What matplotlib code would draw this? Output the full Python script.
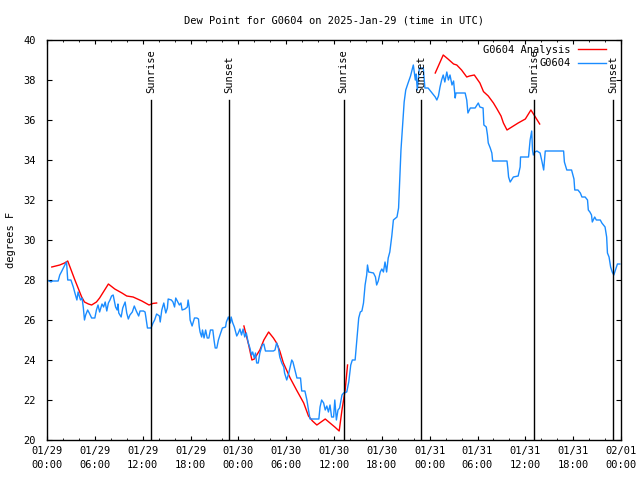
import matplotlib
matplotlib.use('Agg')
import matplotlib.pyplot as plt
import matplotlib.dates as mdates
import numpy as np
import pandas as pd

# 観測値 (時間は 2025-01-29 00:00 UTC からの経過時間)
obs_hours = [0, 0.5, 0.7, 1.4, 1.6, 1.8, 2.05, 2.3, 2.45, 2.6, 3.0, 3.3, 3.5, 3.75, 3.9, 4.2, 4.4, 4.56, 4.7, 4.85,
             5.1, 5.3, 5.6, 6.0, 6.2, 6.4, 6.6, 6.9, 7.1, 7.3, 7.5, 7.7, 7.9, 8.1, 8.3, 8.6, 8.8, 8.9, 9.0, 9.3,
             9.5, 9.8, 10.0, 10.2, 10.4, 10.7, 10.95, 11.2, 11.5, 11.67, 12.1, 12.3, 12.4, 12.6, 13.05, 13.3, 13.5, 13.75, 14.1, 14.2,
             14.4, 14.65, 14.9, 15.1, 15.2, 15.6, 15.8, 16.0, 16.15, 16.4, 16.6, 16.8, 16.95, 17.3, 17.6, 17.7, 17.85, 17.95, 18.2, 18.5,
             18.8, 19.0, 19.1, 19.2, 19.4, 19.5, 19.7, 19.9, 20.1, 20.3, 20.5, 20.8, 20.95, 21.1, 21.3, 21.5, 21.7, 22.0, 22.4, 22.5,
             22.75, 23.0, 23.1, 23.3, 23.5, 23.6, 23.8, 24.0, 24.2, 24.4, 24.6, 24.8, 25.0, 25.25, 25.45, 25.65, 25.8, 26.0, 26.15, 26.3,
             26.5, 26.7, 27.0, 27.2, 27.4, 27.6, 28.4, 28.6, 28.8, 29.0, 29.2, 29.45, 29.7, 29.8, 30.07, 30.3, 30.5, 30.7, 30.85, 31.1,
             31.35, 31.8, 31.95, 32.35, 32.6, 32.8, 33.0, 33.65, 34.1, 34.25, 34.45, 34.7, 34.9, 35.1, 35.3, 35.5, 35.7, 35.95, 36.1, 36.3,
             36.5, 36.7, 37.0, 37.2, 37.6, 37.85, 38.0, 38.1, 38.3, 38.65, 38.8, 38.95, 39.1, 39.3, 39.5, 39.7, 39.9, 40.1, 40.2, 40.35,
             40.95, 41.2, 41.35, 41.55, 41.8, 42.0, 42.2, 42.4, 42.6, 42.8, 43.0, 43.25, 43.45, 43.9, 44.1, 44.2, 44.3, 44.4, 44.6, 44.8,
             45.0, 45.25, 45.6, 45.85, 45.95, 46.2, 46.3, 46.45, 46.7, 47.2, 47.4, 47.8, 48.3, 48.7, 48.9, 49.1, 49.3, 49.5, 49.7, 49.9,
             50.15, 50.35, 50.55, 50.8, 51.0, 51.2, 51.3, 52.45, 52.65, 52.8, 53.1, 53.7, 54.1, 54.3, 54.7, 54.8, 55.1, 55.25, 55.35, 55.6,
             55.8, 55.9, 57.7, 57.8, 57.9, 58.1, 58.5, 59.1, 59.35, 59.4, 60.4, 60.6, 60.8, 60.9, 61.0, 61.2, 61.45, 61.85, 62.1, 62.3,
             62.5, 64.8, 64.9, 65.2, 65.8, 66.1, 66.2, 66.6, 66.9, 67.1, 67.5, 67.8, 67.9, 68.1, 68.3, 68.4, 68.7, 68.9, 69.4, 69.6,
             69.8, 70.0, 70.2, 70.3, 70.5, 70.7, 70.9, 71.1, 71.3, 71.55, 71.85]
obs_vals = [28.0, 27.9, 27.95, 27.95, 28.25, 28.4, 28.6, 28.8, 28.9, 28.0, 28.0, 27.65, 27.35, 27.0, 27.4, 27.0, 27.1, 26.6, 26.0, 26.25,
            26.5, 26.35, 26.1, 26.1, 26.5, 26.75, 26.4, 26.8, 26.65, 26.9, 26.45, 26.85, 27.0, 27.2, 27.25, 26.65, 26.5, 26.8, 26.35, 26.15,
            26.6, 26.9, 26.35, 26.05, 26.25, 26.4, 26.7, 26.45, 26.2, 26.45, 26.45, 26.4, 26.15, 25.6, 25.6, 25.85, 26.0, 26.3, 26.2, 25.9,
            26.5, 26.85, 26.35, 26.6, 27.05, 27.0, 26.9, 26.65, 27.1, 26.9, 26.75, 26.85, 26.5, 26.55, 26.65, 27.0, 26.6, 26.0, 25.7, 26.1,
            26.1, 26.05, 25.65, 25.4, 25.15, 25.5, 25.1, 25.5, 25.1, 25.1, 25.5, 25.5, 25.0, 24.6, 24.6, 25.0, 25.25, 25.6, 25.65, 25.9,
            26.15, 25.85, 26.15, 25.85, 25.65, 25.5, 25.2, 25.35, 25.55, 25.25, 25.55, 25.15, 25.35, 24.85, 24.6, 24.25, 24.4, 24.1, 24.35, 23.85,
            23.85, 24.35, 24.75, 24.8, 24.45, 24.45, 24.45, 24.5, 24.85, 24.65, 24.15, 23.85, 23.65, 23.35, 23.0, 23.3, 23.65, 24.0, 23.9, 23.5,
            23.1, 23.1, 22.45, 22.45, 22.0, 21.5, 21.05, 21.05, 21.05, 21.65, 22.0, 21.85, 21.5, 21.7, 21.4, 21.75, 21.15, 21.15, 22.0, 21.0,
            21.5, 21.6, 22.25, 22.35, 22.4, 22.9, 23.4, 23.75, 24.0, 24.0, 24.7, 25.4, 26.1, 26.4, 26.45, 26.85, 27.75, 28.25, 28.75, 28.4,
            28.35, 28.15, 27.75, 27.95, 28.4, 28.55, 28.4, 28.9, 28.4, 29.1, 29.4, 30.2, 31.0, 31.15, 31.6, 32.6, 33.5, 34.5, 35.7, 36.9,
            37.5, 37.8, 38.2, 38.6, 38.75, 38.0, 38.3, 37.5, 38.6, 38.6, 37.6, 37.6, 37.35, 37.15, 37.0, 37.2, 37.65, 38.0, 38.25, 37.9,
            38.4, 38.0, 38.25, 37.75, 37.95, 37.1, 37.35, 37.35, 37.0, 36.35, 36.6, 36.6, 36.85, 36.65, 36.6, 35.75, 35.65, 35.25, 34.85, 34.6,
            34.35, 33.95, 33.95, 33.6, 33.15, 32.9, 33.15, 33.2, 33.65, 34.15, 34.15, 35.0, 35.45, 34.5, 34.25, 34.4, 34.45, 34.35, 33.9, 33.5,
            34.45, 34.45, 33.9, 33.5, 33.5, 33.05, 32.5, 32.5, 32.35, 32.15, 32.15, 32.0, 31.5, 31.4, 31.25, 30.9, 31.15, 31.0, 31.0, 30.85,
            30.75, 30.65, 30.15, 29.35, 29.15, 28.65, 28.4, 28.25, 28.5, 28.8, 28.8]

# 解析値 (欠測は nan)
ana_hours = [0.6, 1.6, 2.2, 2.6, 3.5, 4.35, 4.7, 5.2, 5.6, 6.2, 6.6, 7.7, 8.5, 9.4, 10.0, 10.8, 11.9, 12.8, 13.3, 13.75,
             19.0,
             24.7, 25.3, 25.7, 26.0, 26.7, 27.2, 27.8, 28.4, 28.8, 29.2, 29.65, 30.5, 31.3, 32.2, 32.8, 33.3, 33.85, 34.9, 35.5,
             36.1, 36.65, 37.0, 37.4, 37.7,
             43.0,
             48.7, 49.7, 50.3, 51.0, 51.4, 52.0, 52.65, 53.0, 53.6, 54.3, 54.75, 55.35, 56.0, 56.45, 56.95, 57.25, 57.7, 58.3, 59.1,
             60.0, 60.7, 61.1, 61.8]
ana_vals = [28.65, 28.75, 28.85, 28.95, 28.0, 27.15, 26.9, 26.8, 26.75, 26.9, 27.1, 27.8, 27.55, 27.35, 27.2, 27.15, 26.95, 26.75, 26.83, 26.85,
            np.nan,
            25.7, 24.75, 24.0, 24.05, 24.5, 25.0, 25.4, 25.1, 24.85, 24.45, 23.85, 23.1, 22.5, 21.85, 21.2, 20.95, 20.75, 21.05, 20.85,
            20.65, 20.45, 21.5, 22.5, 23.75,
            np.nan,
            38.35, 39.25, 39.05, 38.8, 38.75, 38.5, 38.15, 38.2, 38.25, 37.85, 37.42, 37.2, 36.85, 36.55, 36.2, 35.85, 35.5, 35.65, 35.85,
            36.05, 36.5, 36.25, 35.8]

# 日の出・日の入り
event_hours = [13.1, 22.85, 37.2, 46.97, 61.13, 71.05]
event_names = ['Sunrise', 'Sunset', 'Sunrise', 'Sunset', 'Sunrise', 'Sunset']

start = pd.Timestamp('2025-01-29 00:00')
def to_time(h):
    return start + pd.to_timedelta(np.array(h, dtype=float), unit='h')

plt.rcParams['font.family'] = 'DejaVu Sans Mono'
fs = 7.5

fig = plt.figure(figsize=(6.4, 4.8), dpi=100)
ax = fig.add_axes([47/640, 40/480, 574/640, 400/480])

ax.plot(to_time(ana_hours), ana_vals, color='#ff0000', lw=1.0, label='G0604 Analysis')
ax.plot(to_time(obs_hours), obs_vals, color='#1a8cff', lw=1.0, label='G0604')

for h, name in zip(event_hours, event_names):
    t = to_time([h])[0]
    ax.plot([t, t], [20, 37], color='black', lw=1.0)
    ax.text(t, 37.35, name, rotation=90, ha='center', va='bottom', fontsize=fs)

ax.set_xlim(start, start + pd.Timedelta(hours=72))
ax.set_ylim(20, 40)
ax.set_yticks(np.arange(20, 41, 2))
ax.xaxis.set_major_locator(mdates.HourLocator(byhour=[0, 6, 12, 18]))
ax.xaxis.set_minor_locator(mdates.HourLocator(interval=2))
ax.xaxis.set_major_formatter(mdates.DateFormatter('%m/%d\n%H:%M'))

ax.tick_params(axis='both', which='both', direction='in', top=True, right=True, labelsize=fs)
ax.tick_params(axis='x', which='major', length=3, pad=4)
ax.tick_params(axis='x', which='minor', length=1.6)
ax.tick_params(axis='y', which='major', length=3.5, pad=8)
for lbl in ax.get_xticklabels():
    lbl.set_linespacing(1.6)
for s in ax.spines.values():
    s.set_linewidth(1.0)

ax.set_title('Dew Point for G0604 on 2025-Jan-29 (time in UTC)', fontsize=fs, pad=12)
fig.text(11/640, 0.5, 'degrees F', rotation=90, ha='center', va='center', fontsize=fs)

ax.legend(loc='upper right', bbox_to_anchor=(1 - 10/574, 1.0), frameon=False,
          markerfirst=False, fontsize=fs, handlelength=2.7, handletextpad=0.75,
          labelspacing=0.35, borderaxespad=0.25, borderpad=0.2)

plt.savefig('out.png', dpi=100)
